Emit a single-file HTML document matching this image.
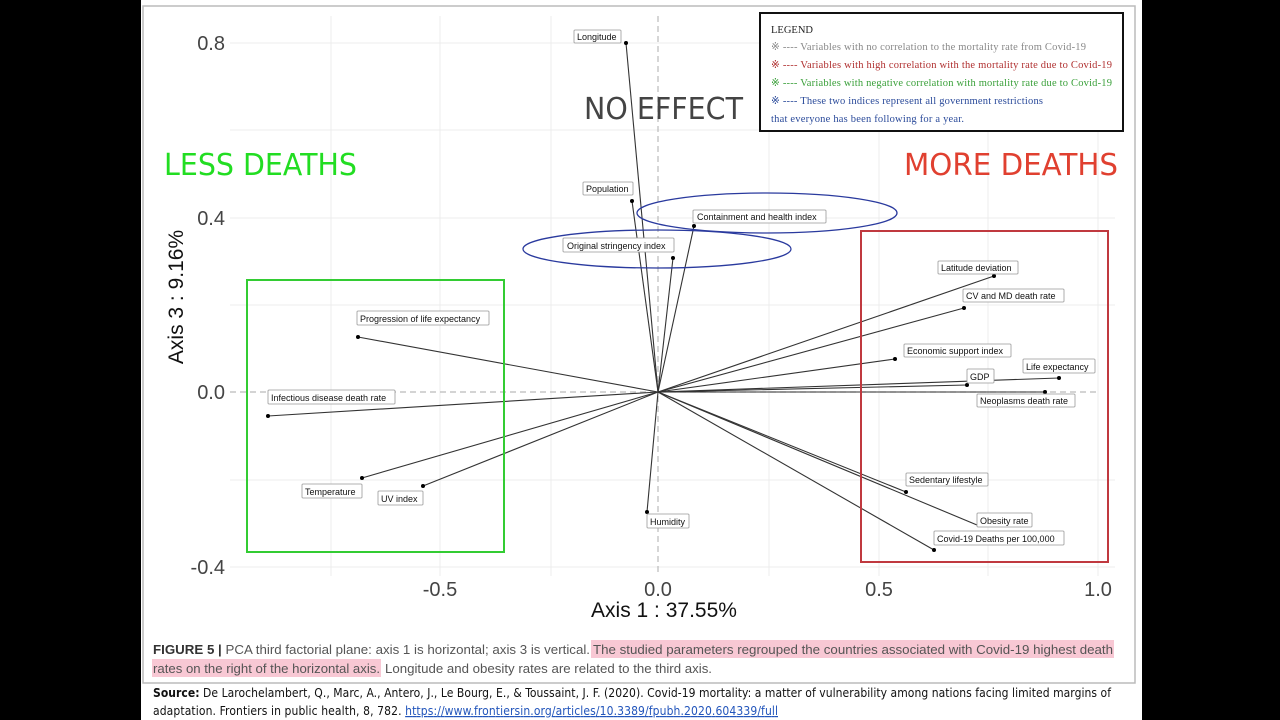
<!DOCTYPE html>
<html><head><meta charset="utf-8"><style>
html,body{margin:0;padding:0;background:#000;}
body{width:1280px;height:720px;position:relative;overflow:hidden;font-family:"Liberation Sans",sans-serif;}
svg{position:absolute;left:0;top:0}
</style></head><body>
<svg width="1280" height="720" viewBox="0 0 1280 720" xmlns="http://www.w3.org/2000/svg">
<rect x="141" y="0" width="1001" height="720" fill="#fff"/>
<rect x="143" y="6" width="992" height="677" fill="#fff" stroke="#bbb" stroke-width="1.5"/>
<g stroke="#ececec" stroke-width="1">
<line x1="230" y1="43" x2="1115" y2="43"/><line x1="230" y1="130" x2="1115" y2="130"/>
<line x1="230" y1="218" x2="1115" y2="218"/><line x1="230" y1="305" x2="1115" y2="305"/>
<line x1="230" y1="480" x2="1115" y2="480"/><line x1="230" y1="567" x2="1115" y2="567"/>
<line x1="331" y1="16" x2="331" y2="576"/><line x1="440" y1="16" x2="440" y2="576"/>
<line x1="551" y1="16" x2="551" y2="576"/><line x1="769" y1="16" x2="769" y2="576"/>
<line x1="879" y1="16" x2="879" y2="576"/><line x1="988" y1="16" x2="988" y2="576"/>
<line x1="1098" y1="16" x2="1098" y2="576"/>
</g>
<g stroke="#bbb" stroke-dasharray="6,4" stroke-width="1.2">
<line x1="230" y1="392" x2="1100" y2="392"/><line x1="658" y1="16" x2="658" y2="576"/>
</g>
<g font-size="20" fill="#444" text-anchor="end">
<text x="225" y="50">0.8</text><text x="225" y="225">0.4</text><text x="225" y="399">0.0</text><text x="225" y="574">-0.4</text>
</g>
<g font-size="20" fill="#444" text-anchor="middle">
<text x="440" y="596">-0.5</text><text x="658" y="596">0.0</text><text x="879" y="596">0.5</text><text x="1098" y="596">1.0</text>
<text x="664" y="617" font-size="21" fill="#111">Axis 1 : 37.55%</text>
</g>
<text transform="translate(183,297) rotate(-90)" font-size="21" fill="#111" text-anchor="middle">Axis 3 : 9.16%</text>
<g stroke="#333" stroke-width="1.1">
<line x1="658" y1="392" x2="626" y2="43"/><line x1="658" y1="392" x2="632" y2="201"/>
<line x1="658" y1="392" x2="694" y2="226"/><line x1="658" y1="392" x2="673" y2="258"/>
<line x1="658" y1="392" x2="994" y2="276"/><line x1="658" y1="392" x2="964" y2="308"/>
<line x1="658" y1="392" x2="895" y2="359"/><line x1="658" y1="392" x2="1059" y2="378"/>
<line x1="658" y1="392" x2="967" y2="385"/><line x1="658" y1="392" x2="1045" y2="392"/>
<line x1="658" y1="392" x2="906" y2="492"/><line x1="658" y1="392" x2="977" y2="525"/>
<line x1="658" y1="392" x2="934" y2="550"/><line x1="658" y1="392" x2="647" y2="512"/>
<line x1="658" y1="392" x2="358" y2="337"/><line x1="658" y1="392" x2="268" y2="416"/>
<line x1="658" y1="392" x2="362" y2="478"/><line x1="658" y1="392" x2="423" y2="486"/>
</g>
<g fill="#000">
<circle cx="626" cy="43" r="2"/><circle cx="632" cy="201" r="2"/><circle cx="694" cy="226" r="2"/><circle cx="673" cy="258" r="2"/>
<circle cx="994" cy="276" r="2"/><circle cx="964" cy="308" r="2"/><circle cx="895" cy="359" r="2"/><circle cx="1059" cy="378" r="2"/>
<circle cx="967" cy="385" r="2"/><circle cx="1045" cy="392" r="2"/><circle cx="906" cy="492" r="2"/>
<circle cx="934" cy="550" r="2"/><circle cx="647" cy="512" r="2"/><circle cx="358" cy="337" r="2"/><circle cx="268" cy="416" r="2"/>
<circle cx="362" cy="478" r="2"/><circle cx="423" cy="486" r="2"/>
</g>
<g font-size="9" fill="#111">
<g fill="#fff" stroke="#999" stroke-width="0.8">
<rect x="574" y="30" width="47" height="13" rx="1"/><rect x="583" y="182" width="50" height="13" rx="1"/>
<rect x="693" y="210" width="133" height="13" rx="1"/><rect x="563" y="238" width="111" height="14" rx="1"/>
<rect x="938" y="261" width="80" height="13" rx="1"/><rect x="963" y="289" width="101" height="13" rx="1"/>
<rect x="904" y="344" width="107" height="13" rx="1"/><rect x="1023" y="359" width="72" height="14" rx="1"/>
<rect x="967" y="369" width="27" height="14" rx="1"/><rect x="977" y="394" width="98" height="13" rx="1"/>
<rect x="906" y="473" width="82" height="13" rx="1"/><rect x="977" y="513" width="55" height="14" rx="1"/>
<rect x="934" y="531" width="130" height="14" rx="1"/><rect x="647" y="514" width="42" height="14" rx="1"/>
<rect x="357" y="311" width="132" height="14" rx="1"/><rect x="268" y="390" width="127" height="14" rx="1"/>
<rect x="302" y="484" width="60" height="14" rx="1"/><rect x="378" y="491" width="45" height="14" rx="1"/>
</g>
<text x="577" y="40">Longitude</text><text x="586" y="192">Population</text>
<text x="697" y="220">Containment and health index</text><text x="567" y="249">Original stringency index</text>
<text x="941" y="271">Latitude deviation</text><text x="966" y="299">CV and MD death rate</text>
<text x="907" y="354">Economic support index</text><text x="1026" y="370">Life expectancy</text>
<text x="970" y="380">GDP</text><text x="980" y="404">Neoplasms death rate</text>
<text x="909" y="483">Sedentary lifestyle</text><text x="980" y="524">Obesity rate</text>
<text x="937" y="542">Covid-19 Deaths per 100,000</text><text x="650" y="525">Humidity</text>
<text x="360" y="322">Progression of life expectancy</text><text x="271" y="401">Infectious disease death rate</text>
<text x="305" y="495">Temperature</text><text x="381" y="502">UV index</text>
</g>
<g fill="none">
<ellipse cx="767" cy="213" rx="130" ry="20" stroke="#2a3a9e" stroke-width="1.3"/>
<ellipse cx="657" cy="249" rx="134" ry="19" stroke="#2a3a9e" stroke-width="1.3"/>
<rect x="247" y="280" width="257" height="272" stroke="#33cc33" stroke-width="2"/>
<rect x="861" y="231" width="247" height="331" stroke="#c0393f" stroke-width="2"/>
</g>
<text x="164" y="175" font-size="30" fill="#22dd22" font-family="'DejaVu Sans',sans-serif" textLength="193" lengthAdjust="spacingAndGlyphs">LESS DEATHS</text>
<text x="904" y="175" font-size="30" fill="#e04030" font-family="'DejaVu Sans',sans-serif" textLength="214" lengthAdjust="spacingAndGlyphs">MORE DEATHS</text>
<text x="584" y="119" font-size="30" fill="#444" font-family="'DejaVu Sans',sans-serif" textLength="159" lengthAdjust="spacingAndGlyphs">NO EFFECT</text>
<rect x="760" y="13" width="363" height="118" fill="#fff" stroke="#111" stroke-width="2"/>
<g font-family="'Liberation Serif',serif" font-size="10.5">
<text x="771" y="33" fill="#222">LEGEND</text>
<text x="771" y="50" fill="#888" textLength="315">※ ---- Variables with no correlation to the mortality rate from Covid-19</text>
<text x="771" y="68" fill="#b03030" textLength="341">※ ---- Variables with high correlation with the mortality rate due to Covid-19</text>
<text x="771" y="86" fill="#3aa03a" textLength="341">※ ---- Variables with negative correlation with mortality rate due to Covid-19</text>
<text x="771" y="104" fill="#2a4a9a" textLength="272">※ ---- These two indices represent all government restrictions</text>
<text x="771" y="122" fill="#2a4a9a" textLength="193">that everyone has been following for a year.</text>
</g>
<rect x="591" y="640" width="523" height="18" fill="#f8c8d4"/>
<rect x="152" y="659" width="229" height="18" fill="#f8c8d4"/>
<g font-size="13" fill="#555">
<text x="153" y="654" textLength="437" lengthAdjust="spacingAndGlyphs"><tspan font-weight="bold" fill="#333">FIGURE 5 |</tspan> PCA third factorial plane: axis 1 is horizontal; axis 3 is vertical.</text>
<text x="593" y="654" textLength="520" lengthAdjust="spacingAndGlyphs">The studied parameters regrouped the countries associated with Covid-19 highest death</text>
<text x="153" y="673" textLength="227" lengthAdjust="spacingAndGlyphs">rates on the right of the horizontal axis.</text>
<text x="385" y="673" textLength="327" lengthAdjust="spacingAndGlyphs">Longitude and obesity rates are related to the third axis.</text>
</g>
<g font-size="12" fill="#111" font-family="'DejaVu Sans Condensed','Liberation Sans Narrow','Liberation Sans',sans-serif">
<text x="153" y="697" textLength="958"><tspan font-weight="bold">Source:</tspan> De Larochelambert, Q., Marc, A., Antero, J., Le Bourg, E., &amp; Toussaint, J. F. (2020). Covid-19 mortality: a matter of vulnerability among nations facing limited margins of</text>
<text x="153" y="715" textLength="625">adaptation. Frontiers in public health, 8, 782. <tspan fill="#2255bb" text-decoration="underline">https://www.frontiersin.org/articles/10.3389/fpubh.2020.604339/full</tspan></text>
</g>
</svg>
</body></html>
